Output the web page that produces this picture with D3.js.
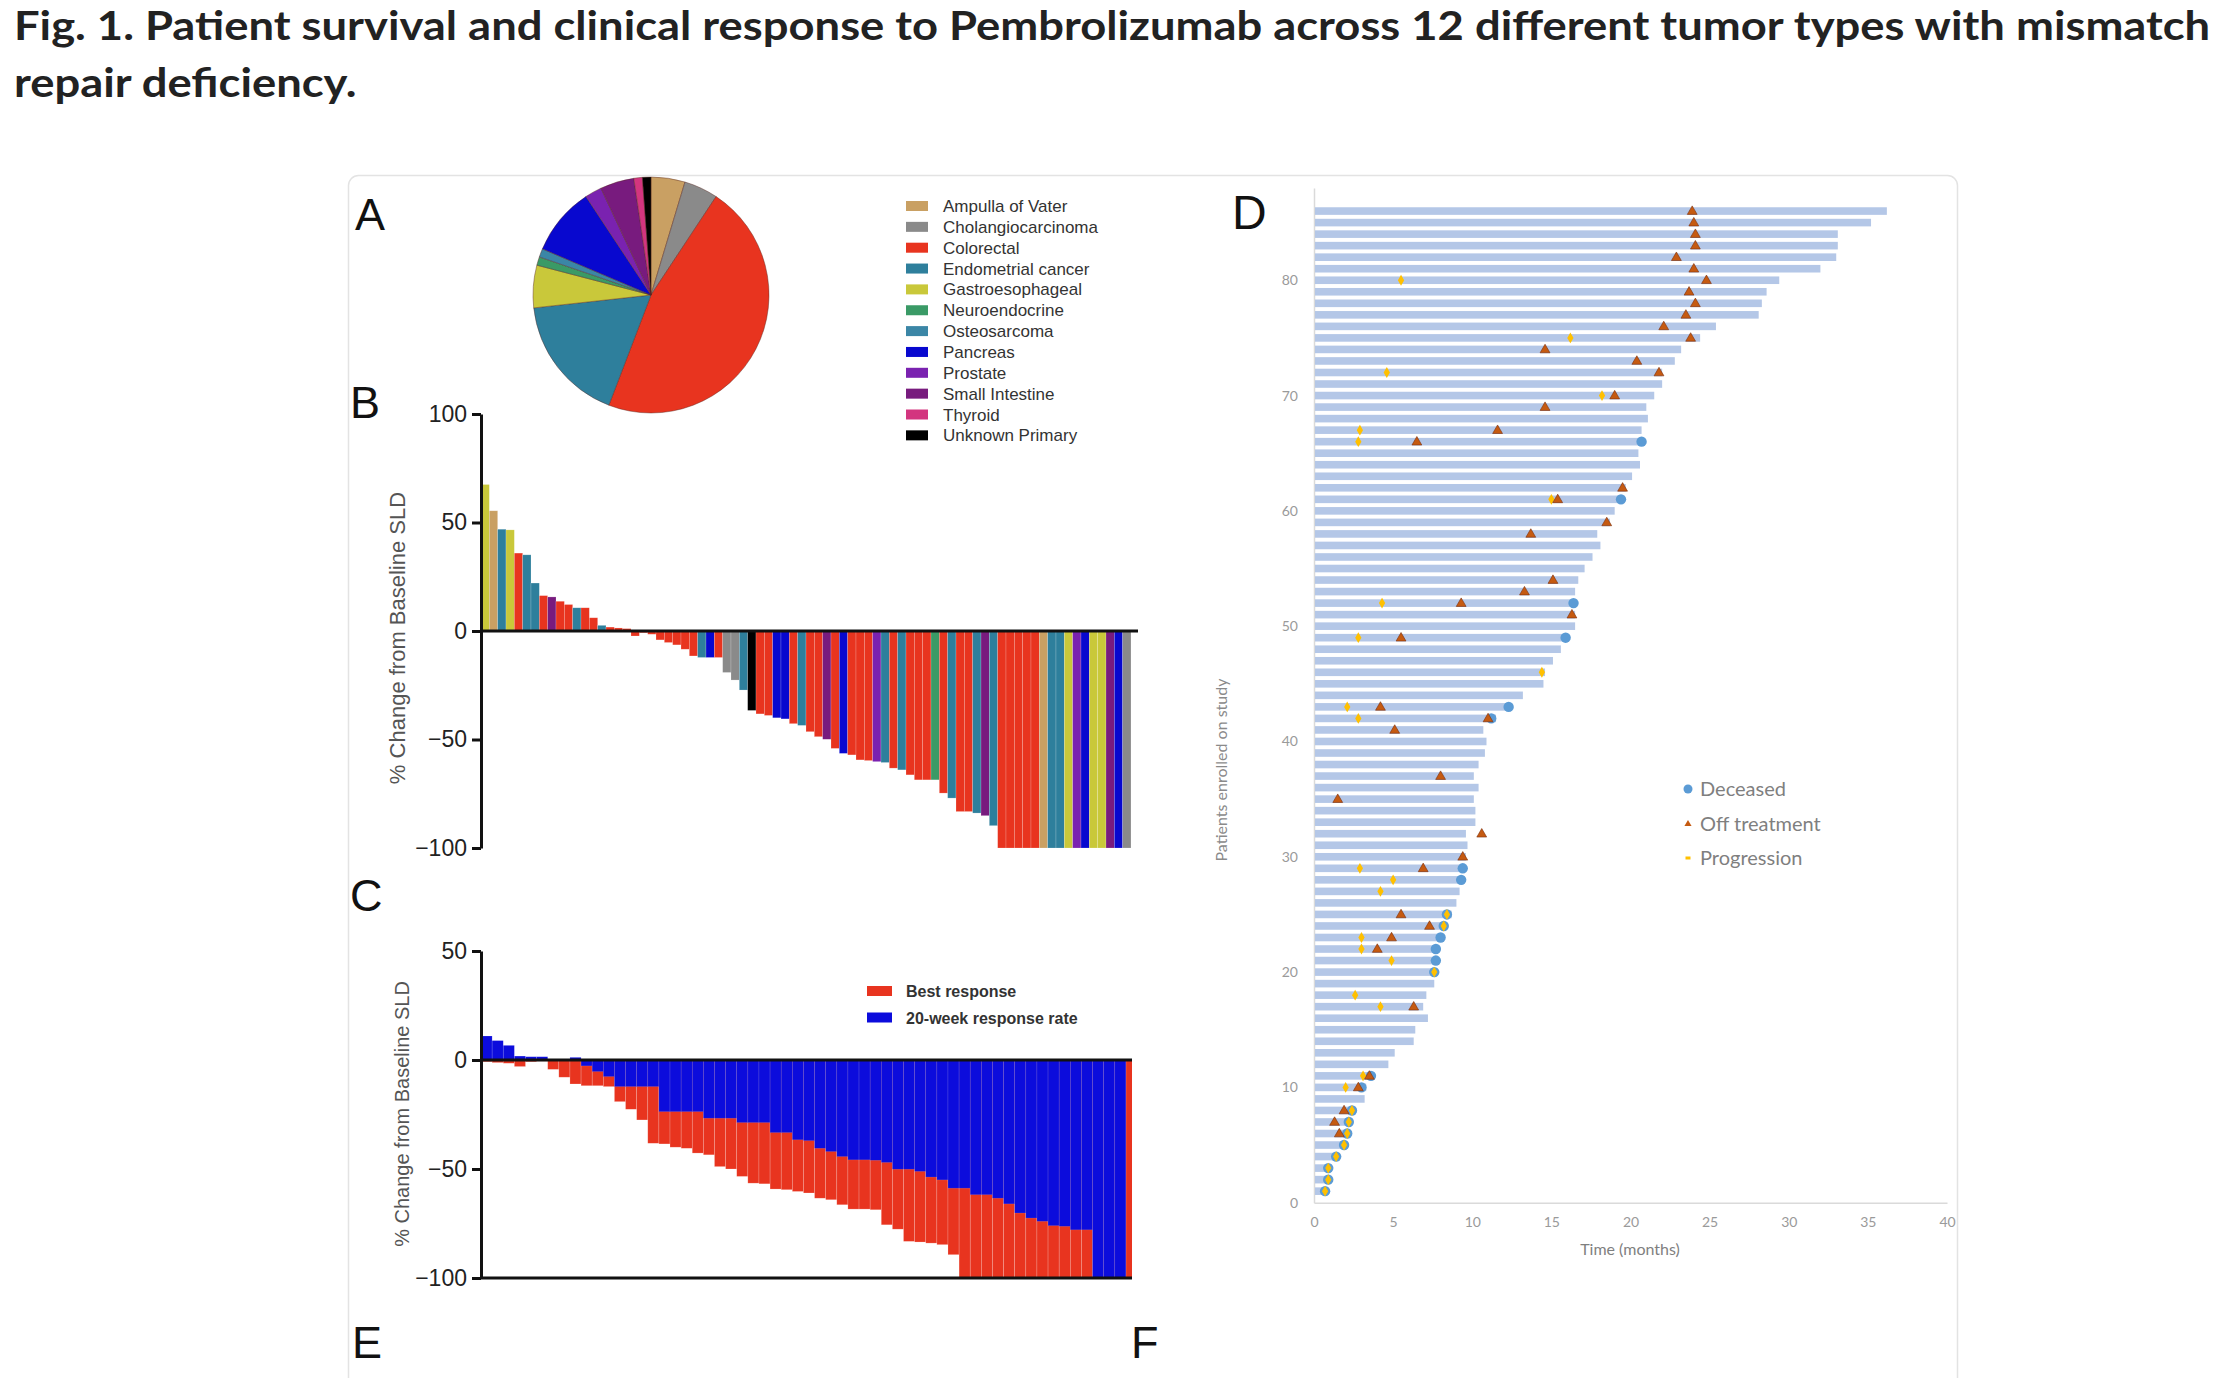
<!DOCTYPE html>
<html><head><meta charset="utf-8">
<script src="https://cdn.jsdelivr.net/npm/d3@7"></script>
<style>body{margin:0;background:#fff}svg{display:block}</style>
</head><body>
<svg id="c" width="2214" height="1378"></svg>
<script>
// ---------- DATA ----------
const titleLines = [
  "Fig. 1. Patient survival and clinical response to Pembrolizumab across 12 different tumor types with mismatch",
  "repair deficiency."
];
const tumorTypes = ["Ampulla of Vater","Cholangiocarcinoma","Colorectal","Endometrial cancer","Gastroesophageal","Neuroendocrine","Osteosarcoma","Pancreas","Prostate","Small Intestine","Thyroid","Unknown Primary"];
const tumorCodes = ["AMP","CHO","COL","END","GAS","NEU","OST","PAN","PRO","SMI","THY","UNK"];
const tumorCounts = [4,4,40,15,5,1,1,8,2,4,1,1];
const tumorColors = ["#c9a063","#8a8a8a","#e8341f","#2e7f9c","#c9c83a","#3a9a66","#3b86a6","#0808cf","#7a22b0","#781b7e","#d3357f","#000000"];

// Panel B waterfall (% change from baseline SLD)
const waterfallValues = [67.5,55.4,46.9,46.6,35.9,35.1,22.1,16.3,15.7,13.7,12.2,10.7,10.7,6.1,2.6,1.8,1.4,1.1,-2.3,-0.8,
  -1.5,-4.1,-5.3,-6.4,-8.4,-11.5,-12.2,-12.2,-12.2,-19.1,-22.6,-27.2,-36.6,-38.2,-38.9,-40.0,-40.5,-42.7,-43.5,-46.4,
  -48.7,-49.9,-54.1,-56.4,-57.1,-59.4,-59.7,-60.2,-60.6,-63.2,-64.0,-66.3,-68.6,-68.6,-68.6,-74.7,-77.0,-83.2,-83.2,-83.9,
  -85.1,-89.7,-100,-100,-100,-100,-100,-100,-100,-100,-100,-100,-100,-100,-100,-100,-100,-100];
const waterfallTypes = ["GAS","AMP","END","GAS","COL","END","END","COL","SMI","COL","COL","END","COL","COL","END","COL","COL","COL","COL","COL",
  "COL","COL","COL","COL","COL","COL","END","PAN","COL","CHO","CHO","END","UNK","COL","COL","PAN","PAN","COL","END","COL",
  "COL","SMI","COL","PAN","COL","COL","COL","PRO","END","COL","END","COL","COL","COL","NEU","COL","END","COL","COL","END",
  "SMI","END","COL","COL","COL","COL","COL","AMP","END","END","GAS","PRO","PAN","GAS","GAS","SMI","PAN","CHO"];

// Panel C
const bestResponse = [-0.8,-1.2,-1.5,-3.0,-0.8,-0.5,-4.3,-7.9,-11.0,-11.8,-11.8,-12.2,-19.1,-22.6,-27.5,-38.2,-38.5,-40.0,-40.5,-42.7,
  -43.5,-48.9,-50.0,-53.4,-56.5,-56.8,-59.2,-59.5,-60.3,-61.0,-63.4,-64.1,-66.4,-68.4,-68.4,-68.7,-75.6,-77.6,-83.2,-83.5,
  -84.0,-84.7,-89.3,-100,-100,-100,-100,-100,-100,-100,-100,-100,-100,-100,-100,-100,-100,-100,-100];
const week20Response = [11.0,8.9,6.7,1.8,1.5,1.5,0,0,1.2,-2.7,-5.3,-7.6,-12.2,-12.2,-12.2,-12.2,-23.7,-23.7,-23.7,-23.7,
  -26.7,-26.7,-26.7,-28.7,-28.7,-28.7,-33.3,-33.3,-36.6,-37.0,-40.5,-42.0,-44.3,-45.8,-45.8,-46.0,-47.0,-50.1,-50.1,-51.1,
  -53.7,-55.0,-58.8,-58.8,-61.8,-61.8,-63.4,-66.0,-70.2,-72.5,-74.0,-76.0,-76.3,-77.9,-77.9,-100,-100,-100,0];
const responseLegend = ["Best response","20-week response rate"];

// Panel D swimmer (months on study, patients 1..86)
const swimDurations = [0.7,0.9,1.1,1.5,1.9,2.2,2.4,2.6,3.2,3.3,3.8,4.7,5.1,6.3,6.4,7.2,6.9,7.1,7.6,7.7,
  7.7,7.7,8.1,8.4,8.7,9.0,9.2,9.3,9.4,9.6,9.7,9.6,10.2,10.2,10.1,10.4,10.1,10.4,10.8,10.9,
  10.7,11.5,12.4,13.2,14.5,14.6,15.1,15.6,15.9,16.5,16.5,16.5,16.5,16.7,17.1,17.6,18.1,17.9,18.7,19.0,
  19.4,19.7,20.1,20.6,20.5,20.7,20.7,21.1,21.0,21.5,22.0,22.0,22.8,23.2,24.4,25.4,28.1,28.3,28.6,29.4,
  32.0,33.0,33.1,33.1,35.2,36.2];
const offTreatment = [[86,23.9],[85,24.0],[84,24.1],[83,24.1],[82,22.9],[81,24.0],[80,24.8],[79,23.7],[78,24.1],[77,23.5],
  [76,22.1],[75,23.8],[74,14.6],[73,20.4],[72,21.8],[70,19.0],[69,14.6],[67,11.6],[66,6.5],[62,19.5],[61,15.4],[59,18.5],
  [58,13.7],[54,15.1],[53,13.3],[52,9.3],[51,16.3],[49,5.5],[43,4.2],[42,11.0],[41,5.1],[37,8.0],[35,1.5],[32,10.6],[30,9.4],
  [29,6.9],[25,5.5],[24,7.3],[23,4.9],[22,4.0],[17,6.3],[11,3.5],[10,2.8],[8,1.9],[7,1.3],[6,1.6]];
const progression = [[80,5.5],[75,16.2],[72,4.6],[70,18.2],[67,2.9],[66,2.8],[61,15.0],[52,4.3],[49,2.8],[46,14.4],[43,2.1],
  [42,2.8],[29,2.9],[28,5.0],[27,4.2],[23,3.0],[22,3.0],[21,4.9],[18,2.6],[17,4.2],[11,3.1],[10,2.0],
  [25,8.4],[24,8.2],[20,7.6],[8,2.4],[7,2.2],[6,2.1],[5,1.9],[4,1.4],[3,0.9],[2,0.9],[1,0.7]];
const deceased = [[66,20.7],[61,19.4],[52,16.4],[49,15.9],[43,12.3],[42,11.2],[29,9.4],[28,9.3],[23,8.0],[22,7.7],[21,7.7],
  [11,3.6],[10,3.0],[25,8.4],[24,8.2],[20,7.6],[8,2.4],[7,2.2],[6,2.1],[5,1.9],[4,1.4],[3,0.9],[2,0.9],[1,0.7]];
const swimLegend = ["Deceased","Off treatment","Progression"];

const bTicks = [-100,-50,0,50,100];
const cTicks = [-100,-50,0,50];
const dYTicks = [0,10,20,30,40,50,60,70,80];
const dXTicks = [0,5,10,15,20,25,30,35,40];
const panelLetters = ["A","B","C","D","E","F"];

// ---------- DRAW ----------
const svg = d3.select("#c");
svg.append("rect").attr("width",2214).attr("height",1378).attr("fill","#fff");
const SANS = "'Liberation Sans', Arial, sans-serif";
const colorOf = code => tumorColors[tumorCodes.indexOf(code)];

// Title
const tg = svg.append("g");
const t1 = tg.append("text").attr("x",0).attr("y",40).text(titleLines[0])
  .attr("font-family","Lato, sans-serif").attr("font-weight",700).attr("font-size",40).attr("fill","#222");
tg.append("text").attr("x",0).attr("y",97).text(titleLines[1])
  .attr("font-family","Lato, sans-serif").attr("font-weight",700).attr("font-size",40).attr("fill","#222");
const tw = t1.node().getComputedTextLength();
tg.attr("transform",`translate(14,0) scale(${2197/tw},1)`);

// Frame
svg.append("rect").attr("x",348.5).attr("y",175.5).attr("width",1609).attr("height",1260).attr("rx",10)
  .attr("fill","none").attr("stroke","#e3e3e3").attr("stroke-width",1.5);

// Panel letters
const letterPos = [[355,230,45],[350,418,45],[350,911,45],[1232,229,48],[352,1358,45],[1131,1358,45]];
panelLetters.forEach((L,i)=>{
  svg.append("text").attr("x",letterPos[i][0]).attr("y",letterPos[i][1]).text(L)
    .attr("font-family",SANS).attr("font-size",letterPos[i][2]).attr("fill","#111");
});

// ---- Panel A: pie ----
const pieData = d3.pie().sort(null).value(d=>d)(tumorCounts);
const arc = d3.arc().innerRadius(0).outerRadius(118);
const pg = svg.append("g").attr("transform","translate(651,295)");
pg.selectAll("path").data(pieData).join("path").attr("d",arc)
  .attr("fill",(d,i)=>tumorColors[i]).attr("stroke","#5a2a22").attr("stroke-width",0.8).attr("stroke-opacity",0.55);

const lg = svg.append("g");
tumorTypes.forEach((t,i)=>{
  const y = 206 + i*20.85;
  lg.append("rect").attr("x",906).attr("y",y-5).attr("width",22).attr("height",10).attr("fill",tumorColors[i]);
  lg.append("text").attr("x",943).attr("y",y+6).text(t).attr("font-family",SANS).attr("font-size",17).attr("fill","#333");
});

// ---- Panel B: waterfall ----
const xB = d3.scaleBand().domain(d3.range(waterfallValues.length)).range([481,1131]).padding(0);
const yB = d3.scaleLinear().domain([-100,100]).range([848,414]);
svg.append("g").selectAll("rect").data(waterfallValues).join("rect")
  .attr("x",(d,i)=>xB(i)).attr("width",xB.bandwidth())
  .attr("y",d=>yB(Math.max(0,d))).attr("height",d=>Math.abs(yB(d)-yB(0)))
  .attr("fill",(d,i)=>colorOf(waterfallTypes[i]))
  .attr("stroke","#fff").attr("stroke-opacity",0.3).attr("stroke-width",0.6);
svg.append("line").attr("x1",481).attr("x2",1138).attr("y1",yB(0)).attr("y2",yB(0)).attr("stroke","#111").attr("stroke-width",3);
const axB = svg.append("g").attr("transform","translate(481,0)")
  .call(d3.axisLeft(yB).tickValues(bTicks).tickSize(9).tickSizeOuter(0).tickPadding(5));
axB.select(".domain").attr("stroke","#111").attr("stroke-width",3);
axB.selectAll(".tick line").attr("stroke","#111").attr("stroke-width",3);
axB.selectAll(".tick text").attr("font-family",SANS).attr("font-size",23).attr("fill","#222");
svg.append("text").attr("transform","translate(405,638) rotate(-90)").attr("text-anchor","middle")
  .text("% Change from Baseline SLD").attr("font-family",SANS).attr("font-size",22).attr("fill","#555");

// ---- Panel C ----
const xC = d3.scaleBand().domain(d3.range(bestResponse.length)).range([481,1137]).padding(0);
const yC = d3.scaleLinear().domain([-100,50]).range([1278,951]);
svg.append("defs").append("clipPath").attr("id","clipC").append("rect")
  .attr("x",481).attr("y",yC(50)).attr("width",651).attr("height",yC(-100)-yC(50)+2);
const cPlot = svg.append("g").attr("clip-path","url(#clipC)");
cPlot.append("g").selectAll("rect").data(bestResponse).join("rect")
  .attr("x",(d,i)=>xC(i)).attr("width",xC.bandwidth())
  .attr("y",d=>yC(Math.max(0,d))).attr("height",d=>Math.abs(yC(d)-yC(0)))
  .attr("fill","#e8341f").attr("stroke","#fff").attr("stroke-opacity",0.3).attr("stroke-width",0.6);
cPlot.append("g").selectAll("rect").data(week20Response).join("rect")
  .attr("x",(d,i)=>xC(i)).attr("width",xC.bandwidth())
  .attr("y",d=>yC(Math.max(0,d))).attr("height",d=>Math.abs(yC(d)-yC(0)))
  .attr("fill","#0c0cdc").attr("stroke","#fff").attr("stroke-opacity",0.2).attr("stroke-width",0.6);
[0,-100].forEach(v=>{
  svg.append("line").attr("x1",481).attr("x2",1132).attr("y1",yC(v)).attr("y2",yC(v)).attr("stroke","#111").attr("stroke-width",3);
});
const axC = svg.append("g").attr("transform","translate(481,0)")
  .call(d3.axisLeft(yC).tickValues(cTicks).tickSize(9).tickSizeOuter(0).tickPadding(5));
axC.select(".domain").attr("stroke","#111").attr("stroke-width",3);
axC.selectAll(".tick line").attr("stroke","#111").attr("stroke-width",3);
axC.selectAll(".tick text").attr("font-family",SANS).attr("font-size",23).attr("fill","#222");
svg.append("text").attr("transform","translate(409,1114) rotate(-90)").attr("text-anchor","middle")
  .text("% Change from Baseline SLD").attr("font-family",SANS).attr("font-size",20).attr("fill","#555");
const lcColors = ["#e8341f","#0c0cdc"];
responseLegend.forEach((t,i)=>{
  const y = 991 + i*26.5;
  svg.append("rect").attr("x",867).attr("y",y-5).attr("width",25).attr("height",10).attr("fill",lcColors[i]);
  svg.append("text").attr("x",906).attr("y",y+6).text(t).attr("font-family",SANS).attr("font-weight",700)
    .attr("font-size",16).attr("fill","#333");
});

// ---- Panel D: swimmer ----
const xD = d3.scaleLinear().domain([0,40]).range([1314,1947]);
const yD = d3.scaleLinear().domain([0,88]).range([1202.7,188]);
const DFONT = "Lato, 'Liberation Sans', sans-serif";
const axDY = svg.append("g").attr("transform","translate(1314,0)")
  .call(d3.axisLeft(yD).tickValues(dYTicks).tickSize(0).tickPadding(16));
const axDX = svg.append("g").attr("transform","translate(0,1202.7)")
  .call(d3.axisBottom(xD).tickValues(dXTicks).tickSize(0).tickPadding(14));
[axDY,axDX].forEach(a=>{
  a.select(".domain").attr("stroke","#dadada").attr("stroke-width",1.5);
  a.selectAll(".tick text").attr("font-family",DFONT).attr("font-size",14).attr("fill","#9a9a9a");
});
svg.append("g").selectAll("rect").data(swimDurations).join("rect")
  .attr("x",xD(0)+1).attr("y",(d,i)=>yD(i+1)-3.8).attr("height",7.6)
  .attr("width",d=>xD(d)-xD(0)-1).attr("fill","#b4c7e7");
svg.append("g").selectAll("circle").data(deceased).join("circle")
  .attr("cx",d=>xD(d[1])).attr("cy",d=>yD(d[0])).attr("r",5.2).attr("fill","#5b9bd5");
const diamond = d3.symbol().type(d3.symbolDiamond).size(34);
svg.append("g").selectAll("path").data(progression).join("path")
  .attr("transform",d=>`translate(${xD(d[1])},${yD(d[0])})`).attr("d",diamond).attr("fill","#ffc000");
const tri = d3.symbol().type(d3.symbolTriangle).size(42);
svg.append("g").selectAll("path").data(offTreatment).join("path")
  .attr("transform",d=>`translate(${xD(d[1])},${yD(d[0])+0.5})`).attr("d",tri)
  .attr("fill","#c55a11").attr("stroke","#7a2e0c").attr("stroke-width",0.6);
// legend D
const ldy = [789,824,858];
svg.append("circle").attr("cx",1688).attr("cy",ldy[0]).attr("r",4.5).attr("fill","#5b9bd5");
svg.append("path").attr("transform",`translate(1688,${ldy[1]})`).attr("d",d3.symbol().type(d3.symbolTriangle).size(22)()).attr("fill","#c55a11");
svg.append("rect").attr("x",1685.5).attr("y",ldy[2]-1.5).attr("width",5).attr("height",3).attr("fill","#ffc000");
swimLegend.forEach((t,i)=>{
  svg.append("text").attr("x",1700).attr("y",ldy[i]+7).text(t).attr("font-family",DFONT).attr("font-size",20).attr("fill","#7f7f7f");
});
svg.append("text").attr("x",1630).attr("y",1255).attr("text-anchor","middle").text("Time (months)")
  .attr("font-family",DFONT).attr("font-size",16).attr("fill","#7f7f7f");
svg.append("text").attr("transform","translate(1227,770) rotate(-90)").attr("text-anchor","middle")
  .text("Patients enrolled on study").attr("font-family",DFONT).attr("font-size",16).attr("fill","#8a8a8a");
</script>
</body></html>
